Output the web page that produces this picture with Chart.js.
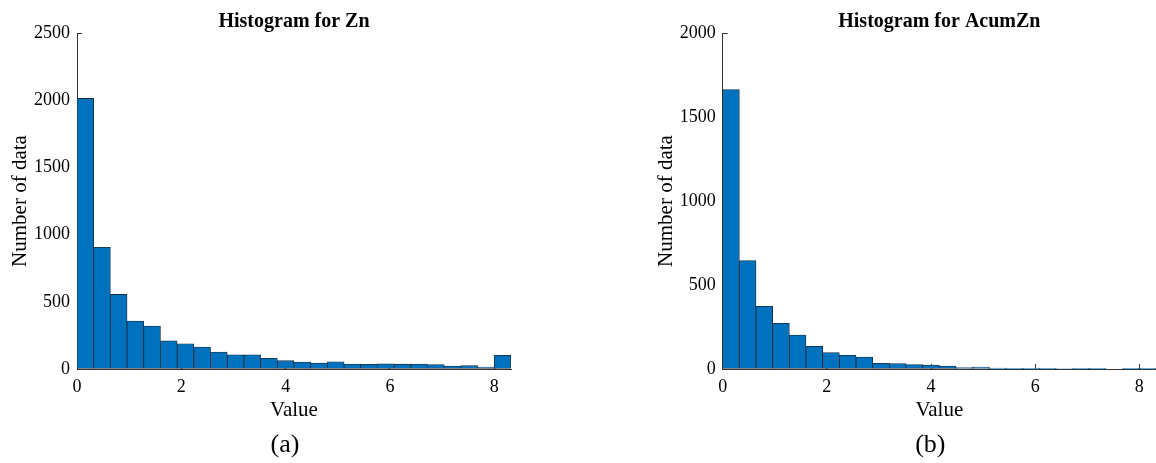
<!DOCTYPE html>
<html>
<head>
<meta charset="utf-8">
<script src="https://cdn.jsdelivr.net/npm/chart.js@4/dist/chart.umd.min.js"></script>
<style>
  html, body { margin: 0; padding: 0; background: #fff; overflow: hidden; }
  #wrap { position: relative; width: 1156px; height: 463px; }
  .panel { position: absolute; top: 0; width: 578px; height: 463px; }
</style>
</head>
<body>
<div id="wrap">
  <div class="panel" style="left:0"><canvas id="zn" width="578" height="463"></canvas></div>
  <div class="panel" style="left:578px"><canvas id="acum" width="578" height="463"></canvas></div>
</div>
<script>
// Histogram bins (left edges) shared by both panels
const binWidth = 0.32;
const binStarts = [0, 0.32, 0.64, 0.96, 1.28, 1.60, 1.92, 2.24, 2.56, 2.88, 3.20, 3.52, 3.84,
                   4.16, 4.48, 4.80, 5.12, 5.44, 5.76, 6.08, 6.40, 6.72, 7.04, 7.36, 7.68, 8.00];

// Counts per bin
const znCounts = [2013, 905, 555, 357, 320, 210, 188, 163, 126, 106, 106, 80, 62,
                  52, 44, 54, 37, 35, 38, 36, 37, 33, 22, 25, 15, 102];
const acumZnCounts = [1663, 646, 373, 272, 202, 135, 98, 81, 71, 34, 33, 27, 23,
                      17, 9, 11, 5, 2, 4, 1, 3, 1, 1, 0, 2, 1];

// Axis ticks
const xTickValues = [0, 2, 4, 6, 8];
const znYTicks = [0, 500, 1000, 1500, 2000, 2500];
const acumYTicks = [0, 500, 1000, 1500, 2000];

const SERIF = "'Liberation Serif', 'Times New Roman', serif";
const AXIS = '#333333';

// Title above the plot area and sub-figure caption underneath
const panelText = {
  id: 'panelText',
  afterDraw(chart, args, opts) {
    const { ctx, chartArea } = chart;
    const cx = (chartArea.left + chartArea.right) / 2;
    ctx.save();
    ctx.fillStyle = '#000';
    ctx.textAlign = 'center';
    ctx.textBaseline = 'alphabetic';
    ctx.font = 'bold 20px ' + SERIF;
    ctx.fillText(opts.title, cx, 27);
    ctx.font = '26px ' + SERIF;
    ctx.fillText(opts.caption, cx + opts.captionShift, 452);
    ctx.restore();
  }
};

const plainNumber = v => String(v);

function histogram(canvasId, counts, yTicks, yMax, title, caption, padding) {
  const points = binStarts.map((s, i) => ({ x: s + binWidth / 2, y: counts[i] }));
  return new Chart(document.getElementById(canvasId), {
    type: 'bar',
    data: {
      datasets: [{
        data: points,
        backgroundColor: '#0072BD',
        borderColor: '#1b2a3a',
        borderWidth: 0.8,
        borderSkipped: false,
        barPercentage: 1,
        categoryPercentage: 1
      }]
    },
    options: {
      responsive: false,
      devicePixelRatio: 1,
      animation: false,
      layout: { padding },
      plugins: {
        legend: { display: false },
        tooltip: { enabled: false },
        panelText: { title, caption, captionShift: -9 }
      },
      scales: {
        x: {
          type: 'linear',
          min: 0,
          max: binStarts[binStarts.length - 1] + binWidth,
          offset: false,
          z: 1,
          afterBuildTicks: s => { s.ticks = xTickValues.map(v => ({ value: v })); },
          afterFit: s => { s.height = 58; },
          grid: { offset: false, drawOnChartArea: false, drawTicks: true, tickLength: -5, color: AXIS, lineWidth: 1 },
          border: { display: true, color: AXIS, width: 1 },
          ticks: { padding: 12, color: '#000', maxRotation: 0, callback: plainNumber, font: { family: SERIF, size: 18 } },
          title: { display: true, text: 'Value', color: '#000', font: { family: SERIF, size: 21 }, padding: { top: 0, bottom: 4 } }
        },
        y: {
          type: 'linear',
          min: 0,
          max: yMax,
          z: 1,
          afterBuildTicks: s => { s.ticks = yTicks.map(v => ({ value: v })); },
          afterFit: s => { s.width = 77; },
          grid: { drawOnChartArea: false, drawTicks: true, tickLength: -5, color: AXIS, lineWidth: 1 },
          border: { display: true, color: AXIS, width: 1 },
          ticks: { padding: 12, color: '#000', callback: plainNumber, font: { family: SERIF, size: 18 } },
          title: { display: true, text: 'Number of data', color: '#000', font: { family: SERIF, size: 21 }, padding: { top: 8, bottom: 0 } }
        }
      }
    },
    plugins: [panelText]
  });
}

histogram('zn', znCounts, znYTicks, 2500, 'Histogram for Zn', '(a)',
          { left: 0, top: 33, right: 67, bottom: 36 });
histogram('acum', acumZnCounts, acumYTicks, 2000, 'Histogram for AcumZn', '(b)',
          { left: 67.7, top: 33, right: 0, bottom: 36 });
</script>
</body>
</html>
